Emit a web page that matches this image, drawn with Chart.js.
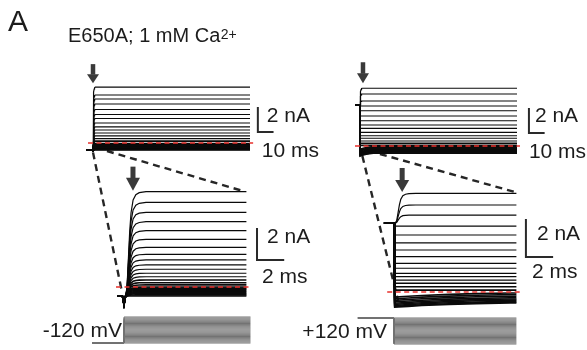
<!DOCTYPE html>
<html><head><meta charset="utf-8">
<script src="https://cdn.jsdelivr.net/npm/chart.js@4.4.1/dist/chart.umd.min.js"></script>
<style>html,body{margin:0;padding:0;background:#fff;}#wrap{position:relative;width:587px;height:350px;}</style>
</head><body><div id="wrap"><canvas id="c" width="587" height="350"></canvas></div>
<script>
// ---------------- data ----------------
const voltages = [-120,-110,-100,-90,-80,-70,-60,-50,-40,-30,-20,-10,0,10,20,30,40,50,60,70,80,90,100,110,120];
// steady-state currents (nA) per voltage step
const leftTopCurrent  = [-0.55,-0.52,-0.49,-0.46,-0.42,-0.38,-0.33,-0.27,-0.2,-0.12,-0.04,0.15,0.35,0.57,0.8,1.04,1.29,1.6,1.96,2.28,2.68,3.12,3.52,3.84,4.47];
const leftBotCurrent  = [-0.56,-0.49,-0.42,-0.35,-0.28,-0.21,-0.14,-0.07,0.0,0.13,0.27,0.44,0.64,0.86,1.11,1.38,1.69,2.04,2.48,2.98,3.52,4.08,4.67,5.29,5.96];
const rightTopCurrent = [-0.58,-0.54,-0.49,-0.44,-0.38,-0.32,-0.26,-0.19,-0.12,-0.05,0.05,0.22,0.4,0.62,0.82,1.09,1.41,1.68,2.02,2.4,2.82,3.2,3.6,4.16,4.62];
const rightBotCurrent = [-0.58,-0.54,-0.49,-0.43,-0.37,-0.3,-0.22,-0.14,-0.05,0.1,0.28,0.46,0.63,0.81,0.98,1.25,1.51,1.86,2.21,2.59,3.0,3.47,4.05,4.58,5.19];
// pre-step current at +120 mV (right column), nA
const rightPreTop = 3.28;
const rightPreBot = 3.63;
// capacitive spike at step onset (left column), nA
const leftSpikeTop = -0.68;
const leftSpikeBot = -1.1;
// initial undershoot of inward traces after +120 mV prepulse, nA
const rightUndershoot = 0.22;
// normalized activation time course (ms, fraction)
const actTime = [0,0.1,0.2,0.3,0.4,0.55,0.75,1.0,1.5];
const actFrac = [0,0.08,0.35,0.62,0.8,0.92,0.97,0.99,1];
// slow relaxation of inward traces (ms, fraction)
const slowTime = [0,1,2,4,6,8.5];
const slowFrac = [0,0.2,0.4,0.65,0.85,1];
// timing (ms)
const topStartL = -4, topStartR = -3.2, topEnd = 100;
const botStartL = -0.5, botStartR = -0.74, botEnd = 9.0;
const stimStartL = -2.35, stimEndL = 9.3, stimHoldL = -120;
const stimStartR = -2.65, stimEndR = 9.0, stimHoldR = 120;
// scale bars
const barNA = 2, barTopMs = 10, barBotMs = 2;

// ---------------- layout (pixels) ----------------
const W = 587, H = 350;
const place = {
  xTL:{zero:93, ppu:1.57, axis:'x'},  yTL:{zero:143, ppu:12.5, axis:'y'},
  xBL:{zero:124, ppu:13.6, axis:'x'}, yBL:{zero:287, ppu:16, axis:'y'},
  xTR:{zero:360, ppu:1.57, axis:'x'}, yTR:{zero:146, ppu:12.5, axis:'y'},
  xBR:{zero:394, ppu:13.6, axis:'x'}, yBR:{zero:292, ppu:19, axis:'y'},
  ySL:{zero:330, ppu:26/240, axis:'y'}, ySR:{zero:331, ppu:26/240, axis:'y'}
};
const FONT = '"Liberation Sans", Arial, Helvetica, sans-serif';
const TXT = '#1c1c1c';

function scaleFor(p){
  let min, max;
  if (p.axis === 'x'){ min = -p.zero/p.ppu; max = (W-p.zero)/p.ppu; }
  else { min = -(H-p.zero)/p.ppu; max = p.zero/p.ppu; }
  return {type:'linear', axis:p.axis, display:false, min, max, bounds:'data', grace:0,
          ticks:{display:false}, grid:{display:false}};
}
const scales = {};
for (const k in place) scales[k] = scaleFor(place[k]);

// ---------------- trace builders ----------------
function leftTrace(iss, hold, spike, t0, t1, delay){
  const pts = [{x:t0,y:hold},{x:-0.12,y:hold},{x:0,y:spike},{x:0.12,y:hold}];
  for (let i=0;i<actTime.length;i++) pts.push({x:delay+actTime[i], y:hold+(iss-hold)*actFrac[i]});
  pts.push({x:t1,y:iss});
  return pts;
}
function rightTrace(iss, pre, t0, t1, delay){
  const pts = [{x:t0,y:pre},{x:0,y:pre}];
  if (iss >= pre){
    for (let i=0;i<actTime.length;i++) pts.push({x:delay+actTime[i], y:pre+(iss-pre)*actFrac[i]});
  } else if (iss >= 0){
    pts.push({x:0.05,y:iss});
  } else {
    const i0 = iss - rightUndershoot;
    for (let j=0;j<slowTime.length;j++){
      const t = 0.05+slowTime[j];
      if (t < t1) pts.push({x:t, y:i0+(iss-i0)*slowFrac[j]});
    }
  }
  pts.push({x:t1,y:iss});
  return pts;
}
function stimTrace(v, hold, t0, t1){
  return [{x:t0,y:hold},{x:0,y:hold},{x:0,y:v},{x:t1,y:v}];
}

const datasets = [];
function addLine(data, xId, yId, color, width, dash, order){
  datasets.push({data, xAxisID:xId, yAxisID:yId, borderColor:color, borderWidth:width,
    borderDash:dash||[], pointRadius:0, fill:false, tension:0, order:order, clip:false});
}
const TRACE = '#0a0a0a';
voltages.forEach((v,i)=>{
  const wIn = v < 0 ? 1.6 : 1.2;
  addLine(leftTrace(leftTopCurrent[i], leftTopCurrent[0], leftSpikeTop, topStartL, topEnd, 0), 'xTL','yTL', TRACE, wIn, null, 2);
  addLine(leftTrace(leftBotCurrent[i], leftBotCurrent[0], leftSpikeBot, botStartL, botEnd, 0.12), 'xBL','yBL', TRACE, wIn, null, 2);
  addLine(rightTrace(rightTopCurrent[i], rightPreTop, topStartR, topEnd, 0.1), 'xTR','yTR', TRACE, wIn, null, 2);
  addLine(rightTrace(rightBotCurrent[i], rightPreBot, botStartR, botEnd, 0.1), 'xBR','yBR', TRACE, wIn, null, 2);
  addLine(stimTrace(v, stimHoldL, stimStartL, stimEndL), 'xBL','ySL', '#737373', 1, null, 3);
  addLine(stimTrace(v, stimHoldR, stimStartR, stimEndR), 'xBR','ySR', '#737373', 1, null, 3);
});
// zero-current reference lines (red dashed)
const RED = '#e8312c';
addLine([{x:-3.2,y:0},{x:102,y:0}], 'xTL','yTL', RED, 1.5, [5,3.5], 0);
addLine([{x:-0.59,y:0},{x:9.26,y:0}], 'xBL','yBL', RED, 1.5, [5,3.5], 0);
addLine([{x:-3.2,y:0},{x:101.9,y:0}], 'xTR','yTR', RED, 1.5, [5,3.5], 0);
addLine([{x:-0.5,y:0},{x:9.26,y:0}], 'xBR','yBR', RED, 1.5, [5,3.5], 0);

// ---------------- annotations (anchored in data units) ----------------
const connectors = [
  {from:['xTL','yTL',0,-0.75],   to:['xBL','yBL',-0.15,-0.3]},
  {from:['xTL','yTL',8.9,-0.64], to:['xBL','yBL',8.9,5.96]},
  {from:['xTR','yTR',1.5,-0.8],  to:['xBR','yBR',0.3,-0.45]},
  {from:['xTR','yTR',12.7,-0.64],to:['xBR','yBR',8.9,5.26]}
];
const arrows = [
  {x:'xTL', y:'yTL', t:0,    i:4.47, gap:4,   shaft:10, head:9,   headW:12, shaftW:4.5},
  {x:'xBL', y:'yBL', t:0.66, i:5.96, gap:1,   shaft:11, head:13,  headW:14, shaftW:5},
  {x:'xTR', y:'yTR', t:1.9,  i:4.62, gap:5,   shaft:11, head:10,  headW:12, shaftW:4.5},
  {x:'xBR', y:'yBR', t:0.6,  i:5.19, gap:1.4, shaft:12, head:12,  headW:14, shaftW:5}
];
const bars = [
  {x:'xTL', y:'yTL', t:105,   i:0.88, dT:barTopMs, h:'10 ms', vdx:9,  vdy:14.7, hdx:4, hdy:25},
  {x:'xBL', y:'yBL', t:9.78,  i:1.69, dT:barBotMs, h:'2 ms',  vdx:10, vdy:15,   hdx:5, hdy:23},
  {x:'xTR', y:'yTR', t:107.6, i:1.04, dT:barTopMs, h:'10 ms', vdx:6,  vdy:13.7, hdx:0, hdy:25},
  {x:'xBR', y:'yBR', t:9.7,   i:1.84, dT:barBotMs, h:'2 ms',  vdx:11, vdy:21,   hdx:6, hdy:21}
];

const annot = {
  id:'annot',
  beforeDatasetsDraw(chart){
    const ctx = chart.ctx, s = chart.scales;
    ctx.save();
    ctx.strokeStyle = '#262626'; ctx.lineWidth = 2.4; ctx.setLineDash([7,5]);
    connectors.forEach(c=>{
      ctx.beginPath();
      ctx.moveTo(s[c.from[0]].getPixelForValue(c.from[2]), s[c.from[1]].getPixelForValue(c.from[3]));
      ctx.lineTo(s[c.to[0]].getPixelForValue(c.to[2]), s[c.to[1]].getPixelForValue(c.to[3]));
      ctx.stroke();
    });
    ctx.restore();
  },
  afterDatasetsDraw(chart){
    const ctx = chart.ctx, s = chart.scales;
    ctx.save();
    // arrows
    ctx.fillStyle = '#3a3a3a';
    arrows.forEach(a=>{
      const px = s[a.x].getPixelForValue(a.t), tip = s[a.y].getPixelForValue(a.i) - a.gap;
      const hb = tip - a.head, top = hb - a.shaft;
      ctx.fillRect(px - a.shaftW/2, top, a.shaftW, a.shaft + 0.5);
      ctx.beginPath();
      ctx.moveTo(px - a.headW/2, hb); ctx.lineTo(px + a.headW/2, hb); ctx.lineTo(px, tip); ctx.closePath();
      ctx.fill();
    });
    // scale bars
    ctx.strokeStyle = '#2a2a2a'; ctx.lineWidth = 2; ctx.setLineDash([]);
    ctx.fillStyle = TXT; ctx.textBaseline = 'alphabetic'; ctx.textAlign = 'left';
    ctx.font = '21px ' + FONT;
    bars.forEach(b=>{
      const x0 = s[b.x].getPixelForValue(b.t), x1 = s[b.x].getPixelForValue(b.t + b.dT);
      const y0 = s[b.y].getPixelForValue(b.i), y1 = s[b.y].getPixelForValue(b.i + barNA);
      ctx.beginPath(); ctx.moveTo(x0, y1); ctx.lineTo(x0, y0); ctx.lineTo(x1, y0); ctx.stroke();
      ctx.fillText(barNA + ' nA', x0 + b.vdx, y1 + b.vdy);
      ctx.fillText(b.h, x0 + b.hdx, y0 + b.hdy);
    });
    // panel letter and title
    ctx.font = '30px ' + FONT; ctx.fillText('A', 8, 31);
    ctx.font = '20px ' + FONT;
    const main = 'E650A; 1 mM Ca';
    ctx.fillText(main, 68, 42);
    const w = ctx.measureText(main).width;
    ctx.font = '14px ' + FONT; ctx.fillText('2+', 68 + w + 0.5, 38.5);
    // holding potentials
    ctx.font = '21px ' + FONT; ctx.textAlign = 'right';
    ctx.fillText(stimHoldL + ' mV', 122, 337);
    ctx.fillText('+' + stimHoldR + ' mV', 387, 338);
    ctx.restore();
  }
};

new Chart(document.getElementById('c'), {
  type:'line',
  data:{datasets},
  options:{
    responsive:false, animation:false, devicePixelRatio:1, events:[],
    layout:{padding:0},
    plugins:{legend:{display:false}, tooltip:{enabled:false}, title:{display:false}},
    scales
  },
  plugins:[annot]
});
</script></body></html>
